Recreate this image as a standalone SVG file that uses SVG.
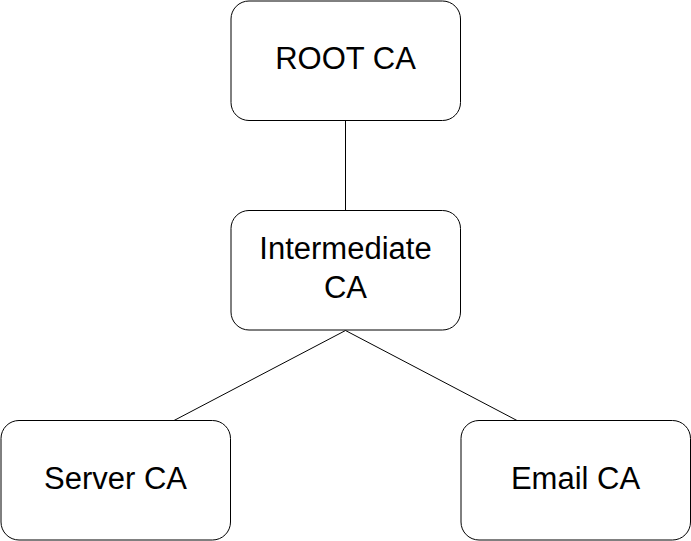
<svg xmlns="http://www.w3.org/2000/svg" width="691" height="541" viewBox="0 0 691 541">
<style>
.box{fill:#fff;stroke:#000;stroke-width:1}
.lbl{font-family:"Liberation Sans",Arial,sans-serif;font-size:31px;fill:#000;text-anchor:middle}
.edge{stroke:#000;stroke-width:1;fill:none}
</style>
<rect width="691" height="541" fill="#fff"/>
<g id="connectors">
<line class="edge" x1="345.5" y1="120.5" x2="345.5" y2="210.5"/>
<line class="edge" x1="345.5" y1="330.5" x2="174" y2="420.5"/>
<line class="edge" x1="345.5" y1="330.5" x2="517" y2="420.5"/>
</g>
<g id="root">
<rect class="box" x="231" y="1" width="229.5" height="119.5" rx="18" ry="18"/>
<text class="lbl" x="345.5" y="69">ROOT CA</text>
</g>
<g id="intermediate">
<rect class="box" x="231" y="210.5" width="229.5" height="119.5" rx="18" ry="18"/>
<text class="lbl" x="345.5" y="259">Intermediate</text>
<text class="lbl" x="345.5" y="297.5">CA</text>
</g>
<g id="server">
<rect class="box" x="1" y="420.5" width="229.5" height="119.5" rx="18" ry="18"/>
<text class="lbl" x="115.5" y="489">Server CA</text>
</g>
<g id="email">
<rect class="box" x="461" y="420.5" width="229.5" height="119.5" rx="18" ry="18"/>
<text class="lbl" x="575.5" y="489">Email CA</text>
</g>
</svg>
